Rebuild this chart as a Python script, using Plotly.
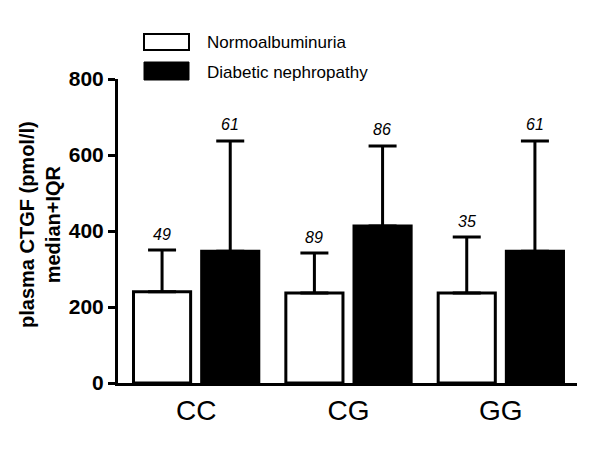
import plotly.graph_objects as go

categories = ["CC", "CG", "GG"]
normo_median = [240, 237, 237]
normo_iqr = [110, 105, 147]
normo_n = ["49", "89", "35"]
dn_median = [347, 413, 347]
dn_iqr = [290, 211, 290]
dn_n = ["61", "86", "61"]
y_ticks = [0, 200, 400, 600, 800]

FONT = "Arial, Liberation Sans, sans-serif"

# plot area in page pixels: x 118..577, y 79..383
PX0, PW, PY0, PH = 118, 459, 383, 304


def px(x):
    return (x - PX0) / PW


def py(y):
    return (PY0 - y) / PH


fig = go.Figure()
fig.add_trace(go.Bar(
    x=categories, y=normo_median, name="Normoalbuminuria",
    marker=dict(color="white", line=dict(color="black", width=3)),
    error_y=dict(type="data", symmetric=False, array=normo_iqr,
                 arrayminus=[0] * len(normo_iqr), color="black",
                 thickness=3, width=14),
))
fig.add_trace(go.Bar(
    x=categories, y=dn_median, name="Diabetic nephropathy",
    marker=dict(color="black", line=dict(color="black", width=3)),
    error_y=dict(type="data", symmetric=False, array=dn_iqr,
                 arrayminus=[0] * len(dn_iqr), color="black",
                 thickness=3, width=14),
))

annotations = []
for cat, m, q, n in zip(categories, normo_median, normo_iqr, normo_n):
    annotations.append(dict(x=cat, y=m + q, text=n, showarrow=False,
                            xshift=-34, yshift=16,
                            font=dict(family=FONT, size=16, color="black", style="italic")))
for cat, m, q, n in zip(categories, dn_median, dn_iqr, dn_n):
    annotations.append(dict(x=cat, y=m + q, text=n, showarrow=False,
                            xshift=34, yshift=16,
                            font=dict(family=FONT, size=16, color="black", style="italic")))

# y-axis title (two lines, rotated)
annotations.append(dict(xref="paper", yref="paper", x=px(40), y=py(225),
                        xanchor="center", yanchor="middle",
                        text="<b>plasma CTGF (pmol/l)<br>median+IQR</b>",
                        textangle=-90, showarrow=False,
                        font=dict(family=FONT, size=20, color="black")))

# legend text
annotations.append(dict(xref="paper", yref="paper", x=px(205), y=py(43),
                        xanchor="left", yanchor="middle", text="Normoalbuminuria",
                        showarrow=False, font=dict(family=FONT, size=17, color="black")))
annotations.append(dict(xref="paper", yref="paper", x=px(205), y=py(72),
                        xanchor="left", yanchor="middle", text="Diabetic nephropathy",
                        showarrow=False, font=dict(family=FONT, size=17, color="black")))

shapes = [
    dict(type="rect", xref="paper", yref="paper",
         x0=px(144), x1=px(189), y0=py(50), y1=py(34),
         line=dict(color="black", width=2), fillcolor="white"),
    dict(type="rect", xref="paper", yref="paper",
         x0=px(144), x1=px(189), y0=py(80), y1=py(62),
         line=dict(color="black", width=1), fillcolor="black"),
]

fig.update_layout(
    width=592, height=454,
    margin=dict(l=110, r=23, t=71, b=79),
    paper_bgcolor="white", plot_bgcolor="white",
    showlegend=False,
    barmode="group", bargap=0.105, bargroupgap=0.162,
    annotations=annotations, shapes=shapes,
    xaxis=dict(range=[-0.513, 2.5], showline=True, linecolor="black", linewidth=3,
               ticks="", showgrid=False, zeroline=False,
               tickfont=dict(family=FONT, size=28, color="black")),
    yaxis=dict(range=[0, 800], tickvals=y_ticks, showline=True, linecolor="black",
               linewidth=3, ticks="outside", ticklen=7, tickwidth=3, tickcolor="black",
               showgrid=False, zeroline=False,
               tickfont=dict(family=FONT, size=21, color="black", weight="bold")),
)

fig.write_html("out.html")
